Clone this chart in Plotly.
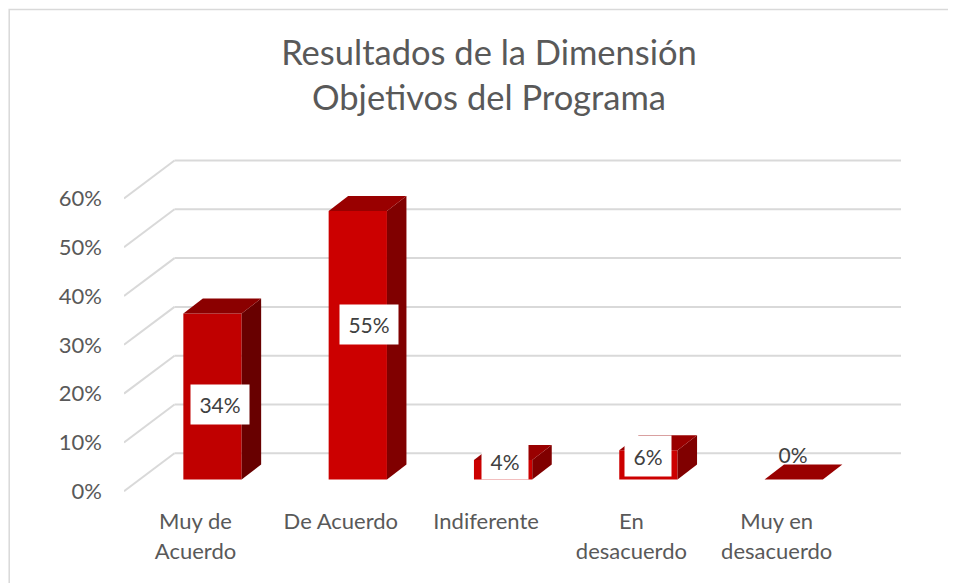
import plotly.graph_objects as go

# ---------- data ----------
categories = ["Muy de Acuerdo", "De Acuerdo", "Indiferente", "En desacuerdo", "Muy en desacuerdo"]
label_line1 = ["Muy de", "De Acuerdo", "Indiferente", "En", "Muy en"]
label_line2 = ["Acuerdo", "", "", "desacuerdo", "desacuerdo"]
values = [34, 55, 4, 6, 0]
wall_ticks = [0, 10, 20, 30, 40, 50, 60]
tick_labels = ["0%", "10%", "20%", "30%", "40%", "50%", "60%"]

# ---------- styling ----------
front_colors = ["#C00000", "#CC0000", "#CC0000", "#CC0000", "#CC0000"]
top_colors = ["#8B0000", "#990000", "#990000", "#990000", "#990000"]
side_colors = ["#680000", "#800000", "#800000", "#800000", "#800000"]
label_xshift = [7.5, 10.7, 2, 0, -1]
label_yshift = [-91, -113, -1.5, -6, 26]
label_w = [58, 58, 46, 46, 46]
label_h = [39, 39, 36, 40, 30]
label_bg = ["white", "white", "white", "white", "rgba(0,0,0,0)"]
GREY = "#595959"
GRID = "#D9D9D9"
FONT = "Lato"

OFF = 8                                  # the page's own body margin
W, H = 956 - OFF, 583 - OFF
PL, PR, PT, PB = 124 - OFF, 905 - OFF, 150 - OFF, 500 - OFF   # plot area in pixels
PX_CAT, X0 = 145.3, 212.5 - OFF          # pixels per category, pixel of category 0
PX_VAL, Y0 = 4.88, 479.5 - OFF           # pixels per percentage point, pixel of zero

x_range = [(PL - X0) / PX_CAT, (PR - X0) / PX_CAT]
y_range = [(Y0 - PB) / PX_VAL, (Y0 - PT) / PX_VAL]

bar_w = 58.3 / PX_CAT
dx_bar, dy_bar = 19.5 / PX_CAT, 15 / PX_VAL
back_dy = 26.2 / PX_VAL
front_dy = -11.7 / PX_VAL
wall_left = (124 - OFF - X0) / PX_CAT
wall_back = (174.5 - OFF - X0) / PX_CAT
wall_right = (901 - OFF - X0) / PX_CAT
cat_tick_shift = -17 / PX_CAT

fig = go.Figure()

fig.add_trace(go.Bar(x=list(range(len(values))), y=values, width=bar_w,
                     marker=dict(color=front_colors, line=dict(width=0)),
                     hoverinfo="skip", showlegend=False))

for i, v in enumerate(values):
    l, r = i - bar_w / 2, i + bar_w / 2
    fig.add_trace(go.Scatter(x=[r, r + dx_bar, r + dx_bar, r, r], y=[0, dy_bar, v + dy_bar, v, 0],
                             mode="lines", line=dict(width=0), fill="toself", fillcolor=side_colors[i],
                             hoverinfo="skip", showlegend=False))
    fig.add_trace(go.Scatter(x=[l, r, r + dx_bar, l + dx_bar, l], y=[v, v, v + dy_bar, v + dy_bar, v],
                             mode="lines", line=dict(width=0), fill="toself", fillcolor=top_colors[i],
                             hoverinfo="skip", showlegend=False))

# invisible trace that keeps the second x axis alive (second line of the category labels)
fig.add_trace(go.Scatter(x=[0], y=[0], xaxis="x2", mode="markers", marker=dict(opacity=0),
                         hoverinfo="skip", showlegend=False))

shapes = []
for t in wall_ticks:
    shapes.append(dict(type="line", xref="x", yref="y", layer="below",
                       x0=wall_left, y0=t + front_dy, x1=wall_back, y1=t + back_dy,
                       line=dict(color=GRID, width=2)))
    shapes.append(dict(type="line", xref="x", yref="y", layer="below",
                       x0=wall_back, y0=t + back_dy, x1=wall_right, y1=t + back_dy,
                       line=dict(color=GRID, width=2)))
shapes.append(dict(type="rect", xref="paper", yref="paper", layer="below",
                   x0=(1.2 - PL) / (PR - PL), x1=(1000 - PL) / (PR - PL),
                   y0=(PB - 700) / (PB - PT), y1=(PB - 1.5) / (PB - PT),
                   line=dict(color=GRID, width=1.5)))

annotations = []
for i, v in enumerate(values):
    annotations.append(dict(x=i, y=v, xref="x", yref="y", text=f"{v}%", showarrow=False,
                            xshift=label_xshift[i], yshift=label_yshift[i],
                            width=label_w[i], height=label_h[i], borderpad=0, align="center",
                            bgcolor=label_bg[i], font=dict(family=FONT, size=21, color="#404040")))
annotations.append(dict(text="Objetivos del Programa", showarrow=False,
                        x=(489 - OFF - PL) / (PR - PL), xref="paper", xanchor="center",
                        y=(PB - (97 - OFF)) / (PB - PT), yref="paper", yanchor="middle",
                        font=dict(family=FONT, size=34.5, color=GREY)))

fig.update_layout(
    width=W, height=H, margin=dict(l=PL, r=W - PR, t=PT, b=H - PB, pad=0, autoexpand=False),
    paper_bgcolor="white", plot_bgcolor="rgba(0,0,0,0)",
    title=dict(text="Resultados de la Dimensión", x=(489 - OFF) / W, xanchor="center",
               y=1 - (53 - OFF) / H, yanchor="middle",
               font=dict(family=FONT, size=34.5, color=GREY)),
    barmode="overlay", showlegend=False, shapes=shapes, annotations=annotations,
    xaxis=dict(range=x_range, tickmode="array", tickvals=[i + cat_tick_shift for i in range(5)], ticktext=label_line1,
               showgrid=False, zeroline=False, showline=False, ticks="", ticklabelstandoff=6,
               tickangle=0, tickfont=dict(family=FONT, size=22, color=GREY)),
    xaxis2=dict(range=x_range, overlaying="x", side="bottom", anchor="y", tickmode="array",
                tickvals=[i + cat_tick_shift for i in range(5)], ticktext=label_line2,
                showgrid=False, zeroline=False, showline=False, ticks="", ticklabelstandoff=36,
                tickangle=0, tickfont=dict(family=FONT, size=22, color=GREY)),
    yaxis=dict(range=y_range, tickmode="array", tickvals=[t + front_dy for t in wall_ticks], ticktext=tick_labels,
               showgrid=False, zeroline=False, showline=False, ticks="", ticklabelstandoff=21,
               tickfont=dict(family=FONT, size=22, color=GREY)),
)

fig.write_html("out.html", default_width=f"{W}px", default_height=f"{H}px")
